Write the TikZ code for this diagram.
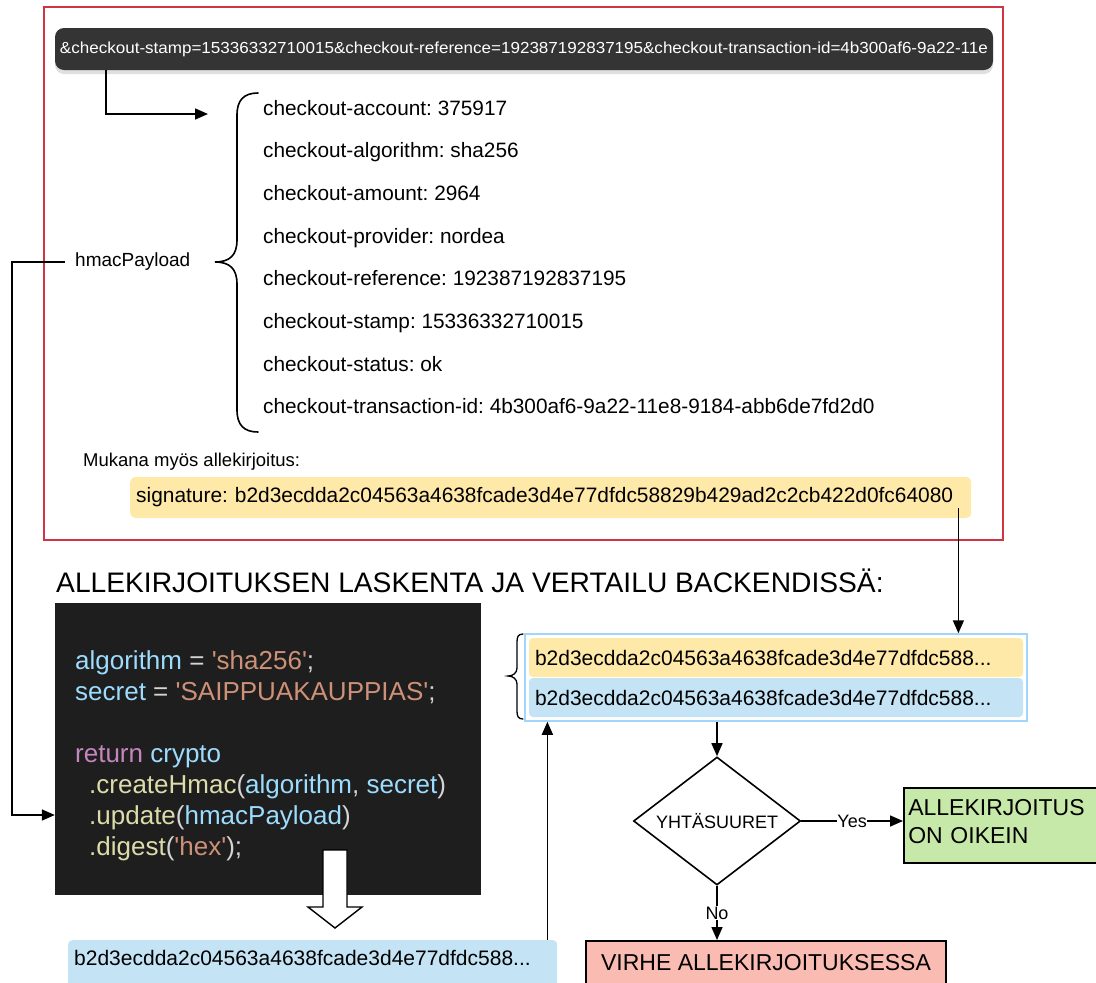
\documentclass[tikz,border=0pt]{standalone}
\usepackage{fontspec}
\setmainfont{Liberation Sans}
\usetikzlibrary{arrows.meta,shapes.geometric,shadows,calc}

\definecolor{framered}{RGB}{208,52,66}
\definecolor{pillgray}{RGB}{52,52,52}
\definecolor{sigyellow}{RGB}{255,233,168}
\definecolor{hashblue}{RGB}{196,228,245}
\definecolor{hashframe}{RGB}{160,214,250}
\definecolor{okgreen}{RGB}{198,232,168}
\definecolor{badred}{RGB}{250,188,178}
\definecolor{codebg}{RGB}{30,30,30}
\definecolor{cvar}{RGB}{156,220,254}
\definecolor{cstr}{RGB}{206,145,120}
\definecolor{ckey}{RGB}{197,134,192}
\definecolor{cfun}{RGB}{220,220,170}
\definecolor{cplain}{RGB}{212,212,212}

\newcommand\sq{\textquotesingle}
\newcommand\fs[1]{\fontsize{#1}{#1}\selectfont}
\frenchspacing

\tikzset{
  conn/.style={line width=1.6pt, draw=black},
  arrow/.style={conn, -{Triangle[length=13pt,width=11pt]}},
  field/.style={anchor=base west, inner sep=0pt, font=\fs{20.8}},
  codeline/.style={anchor=base west, inner sep=0pt, font=\fs{26}},
  hashbox/.style={rectangle, rounded corners=4pt, text width=482pt, inner xsep=6pt,
                  align=left, minimum height=39pt, font=\fs{21}},
  bracepath/.style={line width=1.6pt, line cap=round},
}

\begin{document}
\begin{tikzpicture}[x=1pt,y=-1pt]
\useasboundingbox (0,0) rectangle (1096,983);

% outer frame around the incoming request data
\draw[framered, line width=1.8pt] (44,7) rectangle (1003,540);

% query string pill
\node[rectangle, rounded corners=9pt, fill=pillgray, text=white,
      minimum width=938pt, minimum height=42pt, inner sep=0pt,
      drop shadow={opacity=0.25, shadow xshift=0pt, shadow yshift=-4pt},
      font=\fs{16}] (query) at (524,49)
  {\resizebox{928pt}{\height}{\&checkout-stamp=15336332710015\&checkout-reference=192387192837195\&checkout-transaction-id=4b300af6-9a22-11e}};

% payload fields
\node[field] (f1) at (263,115) {checkout-account: 375917};
\node[field] (f2) at (263,157.7) {checkout-algorithm: sha256};
\node[field] (f3) at (263,200.4) {checkout-amount: 2964};
\node[field] (f4) at (263,243.1) {checkout-provider: nordea};
\node[field] (f5) at (263,285.8) {checkout-reference: 192387192837195};
\node[field] (f6) at (263,328.5) {checkout-stamp: 15336332710015};
\node[field] (f7) at (263,371.2) {checkout-status: ok};
\node[field] (f8) at (263,413.9) {checkout-transaction-id: 4b300af6-9a22-11e8-9184-abb6de7fd2d0};

% curly brace grouping the fields
\draw[bracepath] (258,93) .. controls (244,93) and (237,100) .. (237,115) -- (237,240)
  .. controls (237,255) and (230,262) .. (215,262)
  .. controls (230,262) and (237,269) .. (237,284) -- (237,410)
  .. controls (237,425) and (244,432) .. (258,432);
\coordinate (bracein) at (208,114);

\draw[arrow] ($(query.south west)+(51,0)$) |- (bracein);

\node[anchor=west, inner sep=0pt, font=\fs{19}] (hmac) at (75,262) {hmacPayload};

\node[anchor=west, inner sep=0pt, font=\fs{18.5}] (mukana) at (83,462) {Mukana myös allekirjoitus:};

\node[rectangle, rounded corners=5pt, fill=sigyellow, anchor=west,
      text width=829pt, inner xsep=6pt, align=left, minimum height=41pt,
      font=\fs{20.9}] (sig) at (130,497.5)
  {signature: b2d3ecdda2c04563a4638fcade3d4e77dfdc58829b429ad2c2cb422d0fc64080};

% heading
\node[anchor=west, inner sep=0pt, font=\fs{28.2}] (heading) at (56,581)
  {ALLEKIRJOITUKSEN LASKENTA JA VERTAILU BACKENDISSÄ:};

% code block
\node[rectangle, fill=codebg, minimum width=426pt, minimum height=292pt, inner sep=0pt]
  (code) at (268,749) {};
\node[codeline] (c1) at (75,669) {\textcolor{cvar}{algorithm} \textcolor{cplain}{=} \textcolor{cstr}{\sq sha256\sq}\textcolor{cplain}{;}};
\node[codeline] (c2) at (75,700) {\textcolor{cvar}{secret} \textcolor{cplain}{=} \textcolor{cstr}{\sq SAIPPUAKAUPPIAS\sq}\textcolor{cplain}{;}};
\node[codeline] (c3) at (75,762) {\textcolor{ckey}{return} \textcolor{cvar}{crypto}};
\node[codeline] (c4) at (89,793) {\textcolor{cfun}{.createHmac}\textcolor{cplain}{(}\textcolor{cvar}{algorithm}\textcolor{cplain}{,} \textcolor{cvar}{secret}\textcolor{cplain}{)}};
\node[codeline] (c5) at (89,824) {\textcolor{cfun}{.update}\textcolor{cplain}{(}\textcolor{cvar}{hmacPayload}\textcolor{cplain}{)}};
\node[codeline] (c6) at (89,855) {\textcolor{cfun}{.digest}\textcolor{cplain}{(}\textcolor{cstr}{\sq hex\sq}\textcolor{cplain}{);}};

% hmacPayload routed into the code block
\draw[arrow] ($(hmac.west)+(-10,0)$) -| ($(code.west)+(-43,66)$) -- ($(code.west)+(0,66)$);

% computed hash
\node[rectangle, rounded corners=4pt, fill=hashblue, anchor=north west,
      minimum width=489pt, text width=477pt, inner xsep=6pt, align=left,
      inner ysep=10pt, text depth=16pt, font=\fs{21}] (hash3) at (68,940)
  {b2d3ecdda2c04563a4638fcade3d4e77dfdc588...};

% hollow arrow from the code to its result
\draw[line width=1.4pt, fill=white]
  (323,850) -- (347,850) -- (347,907) -- (362,907) -- (335,928)
  -- (308,907) -- (323,907) -- cycle;

% comparison pair
\node[rectangle, draw=hashframe, line width=1.5pt, fill=white,
      minimum width=502pt, minimum height=87pt, inner sep=0pt]
  (pair) at (776,677.5) {};
\node[hashbox, fill=sigyellow] (hashA) at (776,657.5) {b2d3ecdda2c04563a4638fcade3d4e77dfdc588...};
\node[hashbox, fill=hashblue] (hashB) at (776,697.5) {b2d3ecdda2c04563a4638fcade3d4e77dfdc588...};

\draw[bracepath, line width=1.3pt] (523,634) .. controls (518,634) and (517,637) .. (517,642) -- (517,668)
  .. controls (517,673) and (513,676) .. (508,676)
  .. controls (513,676) and (517,679) .. (517,684) -- (517,711)
  .. controls (517,716) and (518,719) .. (523,719);

\coordinate (sigtap) at ($(sig.south east)+(-13,-10)$);
\draw[arrow] (sigtap) -- (sigtap |- pair.north);

\coordinate (hashtap) at ($(hash3.north east)+(-10,0)$);
\draw[arrow] (hashtap) -- (hashtap |- pair.south);

% decision
\node[diamond, draw, line width=1.6pt, minimum width=167pt, minimum height=128pt,
      aspect=1.3, inner sep=0pt, font=\fs{18}] (eq) at (717,821) {YHTÄSUURET};
\draw[arrow] (pair.south -| eq.north) -- (eq.north);

\node[rectangle, draw, line width=1.6pt, fill=okgreen, anchor=north west,
      minimum width=220pt, minimum height=75pt, text width=211pt, inner xsep=4.5pt,
      align=left, font=\fontsize{23}{28}\selectfont] (ok) at (903,787)
  {ALLEKIRJOITUS\\ON OIKEIN\rule[-8pt]{0pt}{8pt}};

\node[rectangle, draw, line width=1.6pt, fill=badred, anchor=north,
      minimum width=360pt, inner ysep=13.5pt, text depth=16pt, font=\fs{23}]
  (bad) at (766,940) {VIRHE ALLEKIRJOITUKSESSA};

\draw[arrow] (eq.east) -- node[fill=white, inner sep=0.5pt, font=\fs{18}] (yes) {Yes} (eq.east -| ok.west);
\draw[arrow] (eq.south) -- node[fill=white, inner sep=1pt, font=\fs{18}] (no) {No} (eq.south |- bad.north);

\end{tikzpicture}
\end{document}
